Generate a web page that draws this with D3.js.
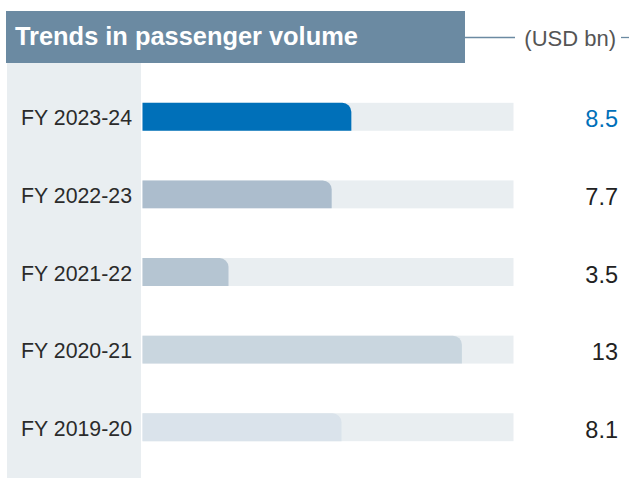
<!DOCTYPE html>
<html>
<head>
<meta charset="utf-8">
<script src="https://cdn.jsdelivr.net/npm/d3@7"></script>
<style>
  html, body { margin: 0; padding: 0; background: #fff; }
  svg { display: block; }
  text { font-family: "Liberation Sans", Arial, sans-serif; }
</style>
</head>
<body>
<svg id="chart" width="629" height="478"></svg>
<script>
// Passenger volume by fiscal year (USD bn)
const years = ["FY 2023-24", "FY 2022-23", "FY 2021-22", "FY 2020-21", "FY 2019-20"];
const volumes = [8.5, 7.7, 3.5, 13, 8.1];
const valueLabels = ["8.5", "7.7", "3.5", "13", "8.1"];
const barColors = ["#0070b9", "#acbdcd", "#b5c5d2", "#c9d6df", "#dae3eb"];
const title = "Trends in passenger volume";
const unit = "(USD bn)";

const svg = d3.select("#chart");
const W = 629, H = 478;

const x = d3.scaleLinear().domain([0, 15.1]).range([142.5, 513.5]);
const y = d3.scaleBand().domain(years).range([64, 480]).paddingInner(0.64).paddingOuter(0.5).align(0.5);

// left label panel
svg.append("rect").attr("x", 7).attr("y", 63).attr("width", 134).attr("height", H - 63).attr("fill", "#e9eef1");

// title block
svg.append("rect").attr("x", 6).attr("y", 11).attr("width", 459).attr("height", 52).attr("fill", "#6b8aa2");
svg.append("text").attr("x", 15).attr("y", 45).attr("fill", "#fff")
  .attr("font-size", 25.4).attr("font-weight", 700).text(title);

// unit label with connector rules
svg.append("line").attr("x1", 465).attr("x2", 515).attr("y1", 37.5).attr("y2", 37.5)
  .attr("stroke", "#6b8aa2").attr("stroke-width", 1.3);
svg.append("text").attr("x", 616).attr("y", 46).attr("text-anchor", "end")
  .attr("fill", "#555").attr("font-size", 22).text(unit);
svg.append("line").attr("x1", 621).attr("x2", 629).attr("y1", 37.5).attr("y2", 37.5)
  .attr("stroke", "#6b8aa2").attr("stroke-width", 1.3);

const bh = y.bandwidth();

// background tracks
svg.selectAll(".track").data(years).join("rect")
  .attr("class", "track")
  .attr("x", x(0)).attr("y", d => y(d))
  .attr("width", x(15.1) - x(0)).attr("height", bh)
  .attr("fill", "#e9eef1");

// bars with a rounded top-right corner
const r = 9;
function barPath(x0, x1, y0, h) {
  const rr = Math.min(r, x1 - x0, h);
  return `M${x0},${y0}H${x1 - rr}A${rr},${rr} 0 0 1 ${x1},${y0 + rr}V${y0 + h}H${x0}Z`;
}
svg.selectAll(".bar").data(volumes).join("path")
  .attr("class", "bar")
  .attr("d", (v, i) => barPath(x(0), x(v), y(years[i]), bh))
  .attr("fill", (v, i) => barColors[i]);

// category labels
svg.selectAll(".cat").data(years).join("text")
  .attr("class", "cat")
  .attr("x", 132).attr("y", d => y(d) + bh / 2 + 8.5)
  .attr("text-anchor", "end").attr("font-size", 21.3).attr("fill", "#2b2b2b")
  .text(d => d);

// value labels
svg.selectAll(".val").data(valueLabels).join("text")
  .attr("class", "val")
  .attr("x", 618).attr("y", (d, i) => y(years[i]) + bh / 2 + 10.5)
  .attr("text-anchor", "end").attr("font-size", 23.5)
  .attr("fill", (d, i) => i === 0 ? "#0070b9" : "#222")
  .text(d => d);
</script>
</body>
</html>
